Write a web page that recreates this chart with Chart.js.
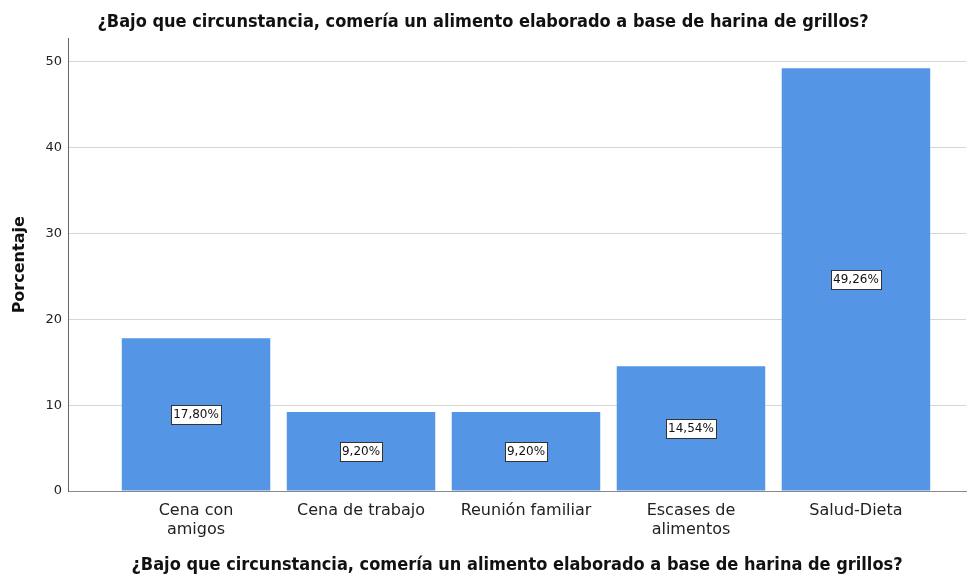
<!DOCTYPE html>
<html>
<head>
<meta charset="utf-8">
<script src="https://cdn.jsdelivr.net/npm/chart.js@4"></script>
<style>
  html, body { margin: 0; padding: 0; background: #fff; }
  #wrap { width: 970px; height: 576px; }
</style>
</head>
<body>
<div id="wrap"><canvas id="myChart" width="970" height="576"></canvas></div>
<script>
// donnees
const titre = '¿Bajo que circunstancia, comería un alimento elaborado a base de harina de grillos?';
const categories = [['Cena con', 'amigos'], 'Cena de trabajo', 'Reunión familiar', ['Escases de', 'alimentos'], 'Salud-Dieta'];
const porcentajes = [17.80, 9.20, 9.20, 14.54, 49.26];
const yTicks = [0, 10, 20, 30, 40, 50];

const couleurBarre = 'rgb(84,149,230)';
const policeTitre = '"DejaVu Sans Condensed", "Liberation Sans Narrow", "Liberation Sans", Arial';

// etiquettes au milieu des barres (boite blanche)
const etiquettes = {
  id: 'etiquettes',
  afterDatasetsDraw(chart) {
    const ctx = chart.ctx;
    const meta = chart.getDatasetMeta(0);
    ctx.save();
    ctx.font = '12px "DejaVu Sans"';
    ctx.textAlign = 'center';
    ctx.textBaseline = 'middle';
    meta.data.forEach((bar, i) => {
      const txt = porcentajes[i].toFixed(2).replace('.', ',') + '%';
      const y = (bar.y + bar.base) / 2;
      const w = ctx.measureText(txt).width + 4;
      const h = 19;
      const bx = Math.round(bar.x - w / 2) + 0.5;
      const by = Math.round(y - h / 2) + 0.5;
      ctx.fillStyle = '#fff';
      ctx.fillRect(bx, by, Math.round(w), h);
      ctx.strokeStyle = '#333';
      ctx.lineWidth = 1;
      ctx.strokeRect(bx, by, Math.round(w), h);
      ctx.fillStyle = '#111';
      ctx.fillText(txt, bar.x, y + 1);
    });
    ctx.restore();
  }
};

new Chart(document.getElementById('myChart'), {
  type: 'bar',
  data: {
    datasets: [{
      data: porcentajes.map((v, i) => ({ x: i, y: v })),
      backgroundColor: couleurBarre,
      borderWidth: 0,
      barPercentage: 0.9,
      categoryPercentage: 1
    }]
  },
  options: {
    responsive: false,
    animation: false,
    layout: { padding: { left: 0, right: 4, top: 0, bottom: 0 } },
    plugins: {
      legend: { display: false },
      tooltip: { enabled: false },
      title: {
        display: true,
        text: titre,
        color: '#111',
        font: { family: policeTitre, size: 18, weight: 'bold' },
        padding: { top: 12, bottom: 5 }
      }
    },
    scales: {
      x: {
        type: 'linear',
        offset: false,
        min: -0.776,
        max: 4.667,
        afterBuildTicks: (scale) => { scale.ticks = categories.map((c, i) => ({ value: i })); },
        afterFit: (scale) => { scale.height = 85; },
        ticks: {
          autoSkip: false,
          maxRotation: 0,
          padding: 10,
          color: '#222',
          font: { family: '"DejaVu Sans"', size: 16 },
          callback: (v) => categories[v]
        },
        grid: { display: false, drawTicks: false },
        border: { display: true, color: '#888', width: 1 },
        title: {
          display: true,
          text: titre,
          color: '#111',
          font: { family: policeTitre, size: 18, weight: 'bold' },
          padding: { top: 8, bottom: 0 }
        }
      },
      y: {
        min: 0,
        max: 52.7,
        afterBuildTicks: (scale) => { scale.ticks = yTicks.map(v => ({ value: v })); },
        afterFit: (scale) => { scale.width = 68; },
        ticks: {
          padding: 6,
          color: '#222',
          font: { family: '"DejaVu Sans"', size: 13 }
        },
        grid: { color: '#d6d6d6', lineWidth: 1, drawTicks: false },
        border: { display: true, color: '#666', width: 1 },
        title: {
          display: true,
          text: 'Porcentaje',
          color: '#111',
          font: { family: '"DejaVu Sans"', size: 16, weight: 'bold' },
          padding: { top: 10, bottom: 6 }
        }
      }
    }
  },
  plugins: [etiquettes]
});
</script>
</body>
</html>
